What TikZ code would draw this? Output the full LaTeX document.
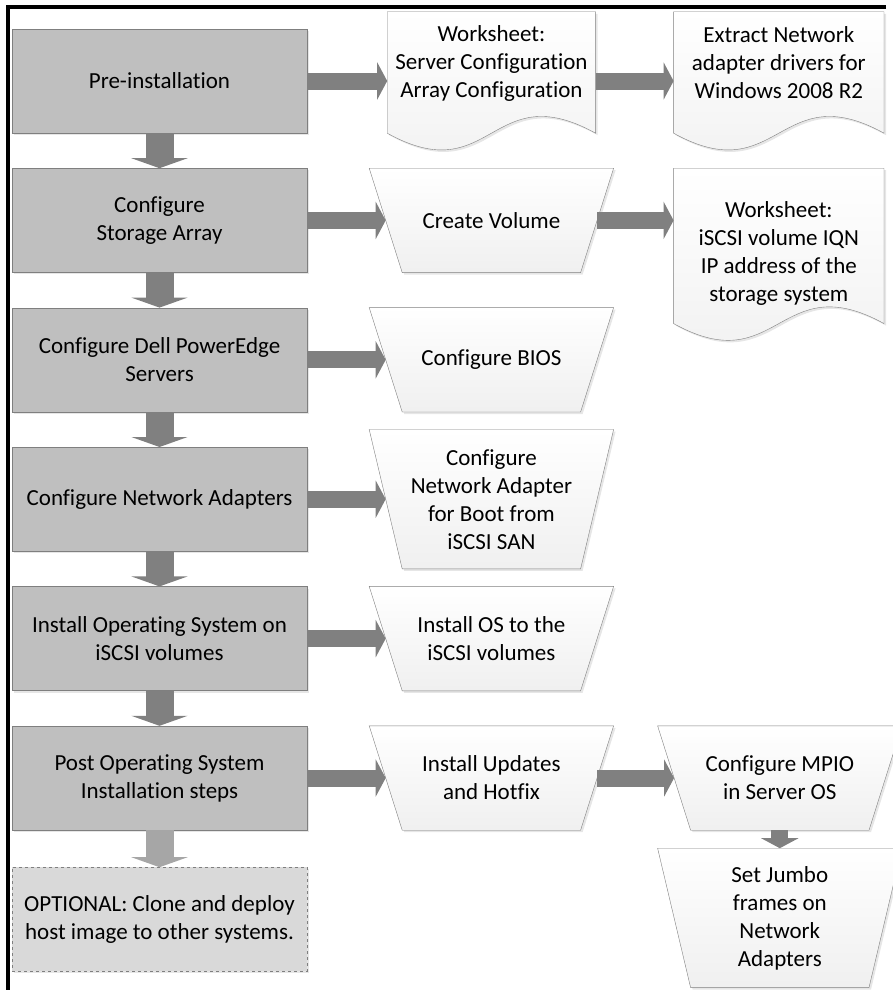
\documentclass[tikz,border=0pt]{standalone}
\usepackage{fontspec}
\setmainfont{Carlito}[Ligatures=NoCommon]
\usetikzlibrary{positioning,arrows.meta,shadows,backgrounds}
\definecolor{boxgray}{HTML}{BFBFBF}
\definecolor{edgegray}{HTML}{7F7F7F}
\definecolor{arrowgray}{HTML}{808080}
\definecolor{optgray}{HTML}{D9D9D9}
\definecolor{optarrow}{HTML}{A6A6A6}
\tikzstyle{stepbox} = [draw=edgegray, fill=boxgray, minimum width=295pt, minimum height=104pt, align=center, font=\fontsize{23}{28}\selectfont, drop shadow={shadow xshift=2pt, shadow yshift=-2pt, opacity=.2}]
\tikzstyle{optbox} = [stepbox, dashed, fill=optgray]
\tikzstyle{manual} = [minimum width=244pt, minimum height=104pt, inner sep=0pt, align=center, font=\fontsize{23}{28}\selectfont]
\tikzstyle{sheet} = [minimum width=208pt, minimum height=102pt, inner sep=0pt, align=center, font=\fontsize{23}{28}\selectfont]
\tikzstyle{outline} = [draw=edgegray, top color=white, bottom color=gray!12, drop shadow={shadow xshift=2pt, shadow yshift=-2pt, opacity=.2}]
\tikzstyle{bigarrow} = [line width=28pt, arrowgray, -{Triangle[width=56pt,length=10pt]}]
\tikzstyle{arrow} = [line width=17pt, arrowgray, -{Triangle[width=37pt,length=10pt]}]
\tikzstyle{optflow} = [line width=28pt, optarrow, -{Triangle[width=56pt,length=10pt]}]

% manual operation outline behind a node: #1 node, inset 33pt
\newcommand{\manualshape}[1]{\draw [outline] (#1.north west) -- (#1.north east) -- ([xshift=-33pt]#1.south east) -- ([xshift=33pt]#1.south west) -- cycle;}
% document outline: #1 node, #2 where the wave starts below the node
\newcommand{\docshape}[2]{\draw [outline] (#1.north west) -- (#1.north east) -- ([yshift=#2]#1.south east) .. controls +(-105,-58) and +(105,58) .. ([yshift=#2]#1.south west) -- cycle;}

\begin{document}
\begin{tikzpicture}[x=1pt, y=-1pt, node distance=35pt]
    \useasboundingbox (0,0) rectangle (892,990);
    \draw [line width=4pt] (886,7) -- (7.5,7) -- (7.5,990);

    \node (pre) [stepbox] at (159.5,81) {Pre-installation};

    \node (storage) [stepbox, below=of pre] {Configure\\Storage Array};
    \draw [bigarrow] (pre) -- (storage);

    \node (dell) [stepbox, below=of storage] {Configure Dell PowerEdge\\Servers};
    \draw [bigarrow] (storage) -- (dell);

    \node (nics) [stepbox, below=of dell] {Configure Network Adapters};
    \draw [bigarrow] (dell) -- (nics);

    \node (os) [stepbox, below=of nics] {Install Operating System on\\iSCSI volumes};
    \draw [bigarrow] (nics) -- (os);

    \node (post) [stepbox, below=of os] {Post Operating System\\Installation steps};
    \draw [bigarrow] (os) -- (post);

    \node (clone) [optbox, below=37pt of post] {OPTIONAL: Clone and deploy\\host image to other systems.};
    \draw [optflow] (post) -- (clone);

    \node (sheet1) [sheet, right=80pt of pre, yshift=18pt] {Worksheet:\\Server Configuration\\Array Configuration};
    \draw [arrow] (pre.east) -- (pre.east -| sheet1.west);

    \node (drivers) [sheet, minimum width=210pt, right=78pt of sheet1] {Extract Network\\adapter drivers for\\Windows 2008 R2};
    \draw [arrow] (pre.east -| sheet1.east) -- (pre.east -| drivers.west);

    \node (volume) [manual, right=62pt of storage] {Create Volume};
    \draw [arrow] (storage) -- ([xshift=16.5pt]volume.west);

    \node (sheet2) [sheet, minimum width=210pt, minimum height=170pt, below=54pt of drivers] {Worksheet:\\iSCSI volume IQN\\IP address of the\\storage system};
    \draw [arrow] ([xshift=-16.5pt]volume.east) -- (volume -| sheet2.west);

    \node (bios) [manual, right=62pt of dell] {Configure BIOS};
    \draw [arrow] (dell) -- ([xshift=16.5pt]bios.west);

    \node (bootnic) [manual, minimum height=139pt, right=62pt of nics] {Configure\\Network Adapter\\for Boot from\\iSCSI SAN};
    \draw [arrow] (nics) -- ([xshift=16.5pt]bootnic.west);

    \node (osvol) [manual, right=62pt of os] {Install OS to the\\iSCSI volumes};
    \draw [arrow] (os) -- ([xshift=16.5pt]osvol.west);

    \node (updates) [manual, right=62pt of post] {Install Updates\\and Hotfix};
    \draw [arrow] (post) -- ([xshift=16.5pt]updates.west);

    \node (mpio) [manual, right=44pt of updates] {Configure MPIO\\in Server OS};
    \draw [arrow] ([xshift=-16.5pt]updates.east) -- ([xshift=16.5pt]mpio.west);

    \node (jumbo) [manual, minimum height=139pt, below=18pt of mpio] {Set Jumbo\\frames on\\Network\\Adapters};
    \draw [arrow] (mpio) -- (jumbo);

    \begin{pgfonlayer}{background}
      \docshape{sheet1}{-19pt}
      \docshape{drivers}{-19pt}
      \docshape{sheet2}{15pt}
      \manualshape{volume}
      \manualshape{bios}
      \manualshape{bootnic}
      \manualshape{osvol}
      \manualshape{updates}
      \manualshape{mpio}
      \manualshape{jumbo}
    \end{pgfonlayer}
\end{tikzpicture}
\end{document}
